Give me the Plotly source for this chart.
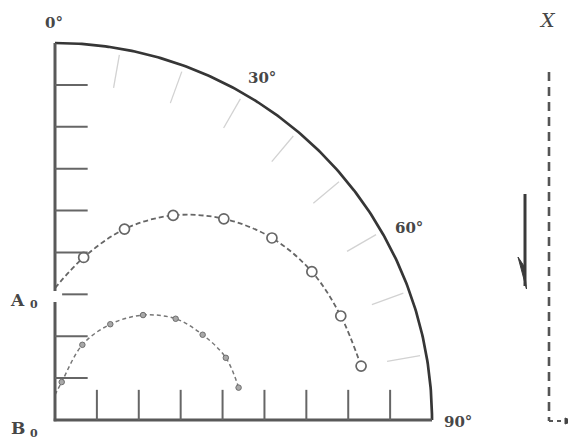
import numpy as np
import plotly.graph_objects as go

# ---------------- data ----------------
theta_deg = [0, 10, 20, 30, 40, 50, 60, 70, 80]
r_outer = [3.15, 3.94, 4.85, 5.64, 6.27, 6.76, 7.08, 7.26, 7.42]
r_inner = [0.60, 0.92, 1.91, 2.64, 3.27, 3.76, 4.07, 4.34, 4.45]
r_arc = 9
radial_ticks = [1, 2, 3, 4, 5, 6, 7, 8]
angle_ticks = [10, 20, 30, 40, 50, 60, 70, 80]
angle_labels = ["0°", "30°", "60°", "90°"]
angle_label_theta = [0, 30, 60, 90]
point_letters = ["A", "B"]
point_subs = ["0", "0"]
point_label_r = [3, 0]
flow_label = "<i>X</i>"

# ---------------- helpers ----------------
PX = 41.89          # pixels per radial unit
OX, OY = 55, 420    # screen pixel position of the origin
PAGE = 8            # default body margin of the page
W, H = 576, 440


def u(px):
    return (px - OX) / PX


def v(py):
    return (OY - py) / PX


def pol(r, t):
    t = np.radians(np.asarray(t, dtype=float))
    r = np.asarray(r, dtype=float)
    return r * np.sin(t), r * np.cos(t)


fig = go.Figure()
shapes = []
AX_COL = "#595959"
TXT_COL = "#474747"

# quarter arc
ta = np.linspace(0, 90, 200)
ax_, ay_ = pol(np.full_like(ta, r_arc), ta)
fig.add_trace(go.Scatter(x=ax_, y=ay_, mode="lines",
                         line=dict(color="#363636", width=2.7), hoverinfo="skip"))

# left axis with a small break at A0
gap_lo, gap_hi = v(302), v(291)
shapes.append(dict(type="line", x0=0, y0=-0.03, x1=0, y1=gap_lo, line=dict(color=AX_COL, width=3)))
shapes.append(dict(type="line", x0=0, y0=gap_hi, x1=0, y1=r_arc, line=dict(color=AX_COL, width=3)))
# bottom axis
shapes.append(dict(type="line", x0=-0.03, y0=0, x1=r_arc, y1=0, line=dict(color=AX_COL, width=3)))

# radial ticks on both straight edges
for k in radial_ticks:
    x0 = 0.17 if k == 3 else 0
    shapes.append(dict(type="line", x0=x0, y0=k, x1=0.78, y1=k, line=dict(color="#666666", width=2)))
    shapes.append(dict(type="line", x0=k, y0=0, x1=k, y1=0.72, line=dict(color="#666666", width=2)))

# light angular ticks near the arc
for t in angle_ticks:
    (x0, x1), (y0, y1) = pol([8.05, 8.85], [t, t])
    shapes.append(dict(type="line", x0=x0, y0=y0, x1=x1, y1=y1, line=dict(color="#d2d2d2", width=1.3)))

# curves
ox, oy = pol(r_outer, theta_deg)
ix, iy = pol(r_inner, theta_deg)
fig.add_trace(go.Scatter(x=ox, y=oy, mode="lines", line=dict(color="#666666", width=1.8, dash="5px,3px", shape="spline"),
                         hoverinfo="skip"))
fig.add_trace(go.Scatter(x=ox[1:], y=oy[1:], mode="markers",
                         marker=dict(symbol="circle", size=10, color="white", line=dict(color="#666666", width=1.7)),
                         hoverinfo="skip"))
fig.add_trace(go.Scatter(x=ix, y=iy, mode="lines", line=dict(color="#777777", width=1.5, dash="4px,3px", shape="spline"),
                         hoverinfo="skip"))
fig.add_trace(go.Scatter(x=ix[1:], y=iy[1:], mode="markers",
                         marker=dict(symbol="circle", size=5.5, color="#a8a8a8", line=dict(color="#6e6e6e", width=1)),
                         hoverinfo="skip"))

annotations = []
# angle labels
label_r = [9.48, 9.55, 9.62, 9.62]
label_dt = [-0.2, 1.2, 1.6, 0.3]
for txt, t, rr, dt in zip(angle_labels, angle_label_theta, label_r, label_dt):
    lx, ly = pol(rr, t + dt)
    annotations.append(dict(x=float(lx), y=float(ly), text=txt, showarrow=False,
                            font=dict(family="DejaVu Serif", size=15, color=TXT_COL, weight="bold"),
                            xanchor="center", yanchor="middle"))
# A0 / B0
for letter, sub, rr, dy in zip(point_letters, point_subs, point_label_r, [-0.13, -0.2]):
    annotations.append(dict(x=u(27), y=rr + dy, text=letter, showarrow=False,
                            font=dict(family="DejaVu Serif", size=17, color=TXT_COL, weight="bold"),
                            xanchor="right", yanchor="middle"))
    annotations.append(dict(x=u(28), y=rr + dy - 0.12, text=sub, showarrow=False,
                            font=dict(family="DejaVu Serif", size=11, color=TXT_COL, weight="bold"),
                            xanchor="left", yanchor="middle"))
# X label
annotations.append(dict(x=u(547), y=v(20), text=flow_label, showarrow=False,
                        font=dict(family="DejaVu Serif", size=19, color=TXT_COL),
                        xanchor="center", yanchor="middle"))

# dashed X line, turning right at the bottom
xl = u(549)
shapes.append(dict(type="line", x0=xl, y0=v(72), x1=xl, y1=v(421),
                   line=dict(color="#555555", width=2.6, dash="9px,6px")))
shapes.append(dict(type="line", x0=xl, y0=v(421), x1=u(566), y1=v(421),
                   line=dict(color="#555555", width=2.2, dash="4px,4px")))
shapes.append(dict(type="path",
                   path=f"M {u(565)},{v(418)} L {u(573)},{v(421)} L {u(565)},{v(424)} Z",
                   fillcolor="#444444", line=dict(color="#444444", width=1)))

# solid down arrow (harpoon)
xa = u(525)
shapes.append(dict(type="line", x0=xa, y0=v(194), x1=xa, y1=v(286),
                   line=dict(color="#3a3a3a", width=3)))
shapes.append(dict(type="path",
                   path=f"M {u(526.5)},{v(289)} L {u(518)},{v(257)} L {u(524)},{v(266)} Z",
                   fillcolor="#3a3a3a", line=dict(color="#3a3a3a", width=1)))

fig.update_layout(
    width=W - PAGE, height=H - PAGE,
    margin=dict(l=0, r=0, t=0, b=0),
    paper_bgcolor="white", plot_bgcolor="white",
    showlegend=False,
    shapes=shapes,
    annotations=annotations,
    xaxis=dict(range=[u(PAGE), u(W)], visible=False, fixedrange=True),
    yaxis=dict(range=[v(H), v(PAGE)], visible=False, fixedrange=True),
)

fig.write_html("out.html")
